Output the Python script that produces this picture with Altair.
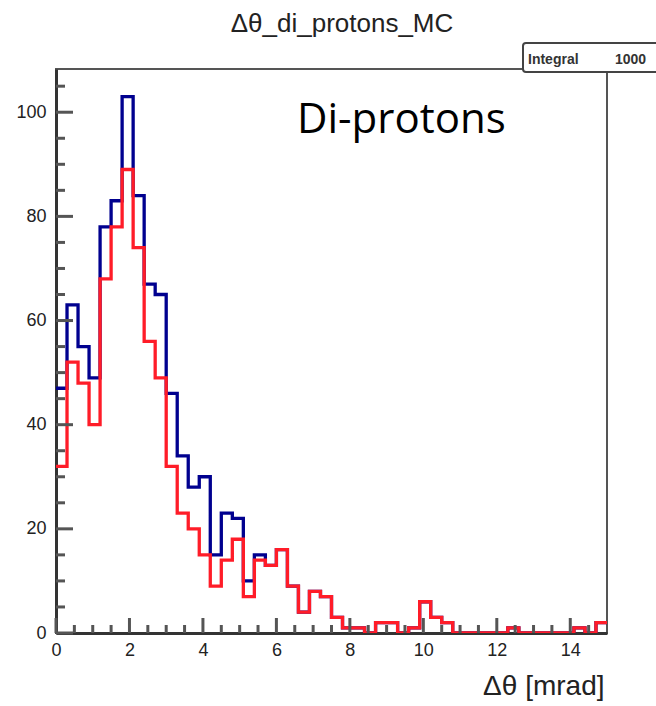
import altair as alt
import pandas as pd

# ---- data (50 bins of 0.3 mrad from 0 to 15) ----
bin_width = 0.3
n_bins = 50
blue_counts = [47, 63, 55, 49, 78, 83, 103, 84, 67, 65,
               46, 34, 28, 30, 15, 23, 22, 10, 15, 13,
               16, 9, 4, 8, 7, 3, 1, 1, 0, 2,
               2, 0, 1, 6, 3, 2, 0, 0, 0, 0,
               0, 1, 0, 0, 0, 0, 0, 1, 0, 2]
red_counts = [32, 52, 48, 40, 68, 78, 89, 74, 56, 49,
              32, 23, 20, 15, 9, 14, 18, 7, 14, 13,
              16, 9, 4, 8, 7, 3, 1, 1, 0, 2,
              2, 0, 1, 6, 3, 2, 0, 0, 0, 0,
              0, 1, 0, 0, 0, 0, 0, 1, 0, 2]
series_names = ["blue", "red"]
series_colors = ["#00008f", "#ff1c28"]

x_major = [0, 2, 4, 6, 8, 10, 12, 14]
x_minor = [0.5, 1, 1.5, 2.5, 3, 3.5, 4.5, 5, 5.5, 6.5, 7, 7.5, 8.5, 9, 9.5,
           10.5, 11, 11.5, 12.5, 13, 13.5, 14.5]
y_major = [0, 20, 40, 60, 80, 100]
y_minor = [5, 10, 15, 25, 30, 35, 45, 50, 55, 65, 70, 75, 85, 90, 95, 105]

title_text = "Δθ_di_protons_MC"
x_title = "Δθ [mrad]"
label_text = "Di-protons"
stat_name = "Integral"
stat_value = "1000"

# ---- build tables ----
edges = [round(bin_width * i, 2) for i in range(n_bins + 1)]
rows = []
for name, counts in zip(series_names, [blue_counts, red_counts]):
    vals = counts + [counts[-1]]
    for i, (x, v) in enumerate(zip(edges, vals)):
        rows.append({"x": x, "count": v, "series": name, "order": i})
hist_df = pd.DataFrame(rows)

W, H = 551, 564
FONT = "Liberation Sans"
xscale = alt.Scale(domain=[0, 15], nice=False, zero=False)
yscale = alt.Scale(domain=[0, 108.3], nice=False, zero=False)

x_axis = alt.Axis(values=x_major, ticks=False, tickSize=0, grid=False,
                  domainColor="#333333", domainWidth=3,
                  labelFont=FONT, labelFontSize=18, labelColor="#222222",
                  labelPadding=8, labelFlush=False,
                  title=x_title, titleFont=FONT, titleFontSize=28,
                  titleFontWeight="normal", titleColor="#222222",
                  titleX=W - 3, titleY=61, titleAlign="right",
                  titleBaseline="alphabetic")
y_axis = alt.Axis(values=y_major, ticks=False, tickSize=0, grid=False,
                  domainColor="#333333", domainWidth=3,
                  labelFont=FONT, labelFontSize=18, labelColor="#222222",
                  labelPadding=10, labelFlush=False, title=None)

hist = alt.Chart(hist_df).mark_line(interpolate="step-after", strokeWidth=3.3, clip=True).encode(
    x=alt.X("x:Q", scale=xscale, axis=x_axis, title=x_title),
    y=alt.Y("count:Q", scale=yscale, axis=y_axis, title=None),
    color=alt.Color("series:N", scale=alt.Scale(domain=series_names, range=series_colors),
                    legend=None),
    detail="series:N",
    order="order:Q",
)

tick_color = "#555555"
yt_major = alt.Chart(pd.DataFrame({"count": y_major})).mark_rule(color=tick_color, strokeWidth=3).encode(
    y=alt.Y("count:Q", scale=yscale, axis=y_axis, title=None), x=alt.value(0), x2=alt.value(17))
yt_minor = alt.Chart(pd.DataFrame({"count": y_minor})).mark_rule(color=tick_color, strokeWidth=3).encode(
    y=alt.Y("count:Q", scale=yscale, axis=y_axis, title=None), x=alt.value(0), x2=alt.value(9))
xt_major = alt.Chart(pd.DataFrame({"x": x_major})).mark_rule(color=tick_color, strokeWidth=3).encode(
    x=alt.X("x:Q", scale=xscale, axis=x_axis, title=x_title), y=alt.value(H), y2=alt.value(H - 15))
xt_minor = alt.Chart(pd.DataFrame({"x": x_minor})).mark_rule(color=tick_color, strokeWidth=3).encode(
    x=alt.X("x:Q", scale=xscale, axis=x_axis, title=x_title), y=alt.value(H), y2=alt.value(H - 8))

one = pd.DataFrame({"k": [0]})
title_mark = alt.Chart(one).mark_text(text=title_text, font=FONT, fontSize=26, color="#222222",
                                      align="center", baseline="alphabetic").encode(
    x=alt.value(286), y=alt.value(-37))
label_mark = alt.Chart(one).mark_text(text=label_text, font="Open Sans", fontSize=42, color="#000000",
                                      align="left", baseline="alphabetic").encode(
    x=alt.value(241), y=alt.value(64))
box = alt.Chart(one).mark_rect(fill="white", stroke="#444444", strokeWidth=2, cornerRadius=3).encode(
    x=alt.value(467), x2=alt.value(680), y=alt.value(-26), y2=alt.value(3))
stat1 = alt.Chart(one).mark_text(text=stat_name, font=FONT, fontSize=14, fontWeight="bold",
                                 color="#333333", align="left", baseline="alphabetic").encode(
    x=alt.value(472), y=alt.value(-5))
stat2 = alt.Chart(one).mark_text(text=stat_value, font=FONT, fontSize=14, fontWeight="bold",
                                 color="#333333", align="left", baseline="alphabetic").encode(
    x=alt.value(559), y=alt.value(-5))

chart = alt.layer(
    hist, yt_minor, yt_major, xt_minor, xt_major, title_mark, label_mark, box, stat1, stat2
).properties(
    width=W, height=H,
    autosize=alt.AutoSizeParams(type="none"),
    padding={"left": 56, "top": 69, "right": 49, "bottom": 73},
    background="white",
).configure_view(
    stroke="#555555", strokeWidth=2,
)

chart.save("out.html", embed_options={"renderer": "svg", "actions": False})
